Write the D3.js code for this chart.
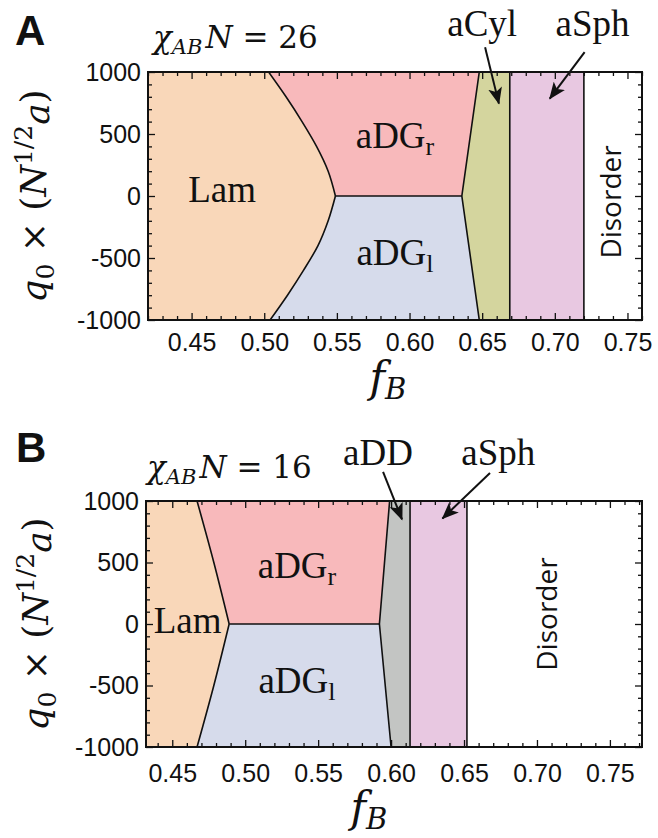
<!DOCTYPE html>
<html>
<head>
<meta charset="utf-8">
<script src="https://cdn.jsdelivr.net/npm/d3@7"></script>
<style>
  body { margin: 0; background: #fff; }
  svg { display: block; }
</style>
</head>
<body>
<div id="chart"></div>
<script>
// axis ticks
const fTicks = [0.45, 0.50, 0.55, 0.60, 0.65, 0.70, 0.75];
const qTicks = [-1000, -500, 0, 500, 1000];

// phase colours
const colors = {
  Lam: "#f9d7b9",
  aDGr: "#f8b9bb",
  aDGl: "#d6dbeb",
  aCyl: "#d4d59e",
  aDD: "#c3c5c3",
  aSph: "#e8c8e1",
  Disorder: "#ffffff"
};

// panel A (chiN = 26) : Lam | aDG boundary, read at several q
const lamUpperQA = [0, 200, 400, 600, 800, 1000];
const lamUpperFA = [0.549, 0.544, 0.536, 0.526, 0.515, 0.503];
const lamLowerQA = [-1000, -800, -600, -400, -200, 0];
const lamLowerFA = [0.504, 0.516, 0.527, 0.537, 0.544, 0.549];
// aDG | aCyl boundary
const dgEdgeQA = [-1000, 0, 1000];
const dgEdgeFA = [0.648, 0.636, 0.648];
const midEdgeA = 0.669; // aCyl | aSph
const sphEdgeA = 0.720; // aSph | Disorder

// panel B (chiN = 16)
const lamUpperQB = [0, 500, 1000];
const lamUpperFB = [0.489, 0.4785, 0.467];
const lamLowerQB = [-1000, -500, 0];
const lamLowerFB = [0.467, 0.4785, 0.489];
const dgEdgeQB = [-1000, 0, 1000];
const dgEdgeFB = [0.600, 0.592, 0.599];
const midEdgeB = 0.613; // aDD | aSph
const sphEdgeB = 0.652; // aSph | Disorder

const zip = (qs, fs) => qs.map((q, i) => ({ q: q, f: fs[i] }));

var panels = [
  {
    letter: "A", chiN: 26, mid: "aCyl",
    fDomain: [0.42, 0.76],
    left: 148, right: 642, top: 72, bottom: 320,
    lamUpper: zip(lamUpperQA, lamUpperFA),
    lamLower: zip(lamLowerQA, lamLowerFA),
    dgEdge: zip(dgEdgeQA, dgEdgeFA),
    midEdge: midEdgeA, sphEdge: sphEdgeA,
    xPad: 13,
    letterPos: [15, 45], titlePos: [153, 48],
    yLabel: [46, 196], xLabel: [388, 392],
    labels: [
      { t: "Lam", f: 0.471, q: -48 },
      { t: "aDG", sub: "r", f: 0.590, q: 385 },
      { t: "aDG", sub: "l", f: 0.590, q: -556 },
      { t: "aCyl", f: 0.650, q: 1290 },
      { t: "aSph", f: 0.726, q: 1290 }
    ],
    arrows: [
      { f0: 0.652, q0: 1200, f1: 0.6615, q1: 745 },
      { f0: 0.7205, q0: 1160, f1: 0.6965, q1: 785 }
    ],
    disorder: { f: 0.7455, q: -48 }
  },
  {
    letter: "B", chiN: 16, mid: "aDD",
    fDomain: [0.432, 0.772],
    left: 146, right: 642, top: 501, bottom: 747,
    lamUpper: zip(lamUpperQB, lamUpperFB),
    lamLower: zip(lamLowerQB, lamLowerFB),
    dgEdge: zip(dgEdgeQB, dgEdgeFB),
    midEdge: midEdgeB, sphEdge: sphEdgeB,
    xPad: 17,
    letterPos: [16, 462], titlePos: [147, 478],
    yLabel: [48, 624], xLabel: [369, 822],
    labels: [
      { t: "Lam", f: 0.4605, q: -73 },
      { t: "aDG", sub: "r", f: 0.5355, q: 374 },
      { t: "aDG", sub: "l", f: 0.5355, q: -561 },
      { t: "aDD", f: 0.591, q: 1293 },
      { t: "aSph", f: 0.6735, q: 1293 }
    ],
    arrows: [
      { f0: 0.5945, q0: 1236, f1: 0.6075, q1: 850 },
      { f0: 0.6678, q0: 1228, f1: 0.6352, q1: 858 }
    ],
    disorder: { f: 0.7137, q: 81 }
  }
];

var svg = d3.select("#chart")
  .append("svg")
  .attr("width", 658)
  .attr("height", 838);

// arrow head
svg.append("defs")
  .append("marker")
  .attr("id", "head")
  .attr("markerUnits", "userSpaceOnUse")
  .attr("markerWidth", 18)
  .attr("markerHeight", 14)
  .attr("refX", 16)
  .attr("refY", 7)
  .attr("orient", "auto")
  .append("path")
  .attr("d", "M0,0 L17,7 L0,14 L4,7 Z")
  .attr("fill", "#111");

var serif = "'DejaVu Serif', serif";
var textSerif = "'Liberation Serif', 'Times New Roman', serif";
var sans = "'Liberation Sans', Arial, sans-serif";

panels.forEach(function (p, pi) {
  var x = d3.scaleLinear().domain(p.fDomain).range([p.left, p.right]);
  var y = d3.scaleLinear().domain([-1000, 1000]).range([p.bottom, p.top]);
  var fMin = p.fDomain[0];

  var clipId = "clip" + pi;
  svg.append("clipPath").attr("id", clipId)
    .append("rect")
    .attr("x", p.left).attr("y", p.top)
    .attr("width", p.right - p.left).attr("height", p.bottom - p.top);

  var g = svg.append("g").attr("clip-path", "url(#" + clipId + ")");

  // area from the left edge to a boundary
  var areaCurve = d3.area()
    .y((d) => y(d.q))
    .x0(x(fMin))
    .x1((d) => x(d.f))
    .curve(d3.curveMonotoneY);
  var areaLin = d3.area()
    .y((d) => y(d.q))
    .x0(x(fMin))
    .x1((d) => x(d.f));

  var full = (f) => [{ q: -1000, f: f }, { q: 1000, f: f }];

  // paint from right to left
  g.append("rect")
    .attr("x", p.left).attr("y", p.top)
    .attr("width", p.right - p.left).attr("height", p.bottom - p.top)
    .attr("fill", colors.Disorder);
  g.append("path").attr("d", areaLin(full(p.sphEdge))).attr("fill", colors.aSph);
  g.append("path").attr("d", areaLin(full(p.midEdge))).attr("fill", colors[p.mid]);
  g.append("path").attr("d", areaLin(p.dgEdge.filter((d) => d.q >= 0))).attr("fill", colors.aDGr);
  g.append("path").attr("d", areaLin(p.dgEdge.filter((d) => d.q <= 0))).attr("fill", colors.aDGl);
  g.append("path").attr("d", areaCurve(p.lamUpper)).attr("fill", colors.Lam);
  g.append("path").attr("d", areaCurve(p.lamLower)).attr("fill", colors.Lam);

  // phase boundaries
  var lineCurve = d3.line().x((d) => x(d.f)).y((d) => y(d.q)).curve(d3.curveMonotoneY);
  var lineLin = d3.line().x((d) => x(d.f)).y((d) => y(d.q));
  var tip = p.lamUpper.find((d) => d.q === 0);
  var dgMid = p.dgEdge.find((d) => d.q === 0);
  var bl = g.append("g").attr("fill", "none").attr("stroke", "#111").attr("stroke-width", 1.6);
  bl.append("path").attr("d", lineCurve(p.lamUpper));
  bl.append("path").attr("d", lineCurve(p.lamLower));
  bl.append("path").attr("d", lineLin(p.dgEdge));
  bl.append("path").attr("d", lineLin([tip, dgMid]));
  bl.append("path").attr("d", lineLin(full(p.midEdge)));
  bl.append("path").attr("d", lineLin(full(p.sphEdge)));

  // minor ticks
  var fMinor = d3.range(Math.ceil(p.fDomain[0] * 100), Math.floor(p.fDomain[1] * 100) + 1)
    .map((d) => d / 100)
    .filter((d) => Math.round(d * 100) % 5 !== 0);
  var qMinor = d3.range(-900, 1000, 100).filter((d) => d % 500 !== 0);

  function styleAxis(sel) {
    sel.select(".domain").remove();
    sel.selectAll("line").attr("stroke", "#111").attr("stroke-width", 1.3);
    sel.selectAll("text")
      .style("font-family", sans)
      .style("font-size", "25px")
      .attr("fill", "#111");
  }

  svg.append("g")
    .attr("transform", "translate(0," + p.bottom + ")")
    .call(d3.axisBottom(x).tickValues(fTicks).tickSize(-7).tickPadding(p.xPad)
      .tickFormat(d3.format(".2f")))
    .call(styleAxis);
  svg.append("g")
    .attr("transform", "translate(0," + p.bottom + ")")
    .call(d3.axisBottom(x).tickValues(fMinor).tickSize(-4).tickFormat(""))
    .call(styleAxis);
  svg.append("g")
    .attr("transform", "translate(0," + p.top + ")")
    .call(d3.axisTop(x).tickValues(fTicks).tickSize(-7).tickFormat(""))
    .call(styleAxis);
  svg.append("g")
    .attr("transform", "translate(0," + p.top + ")")
    .call(d3.axisTop(x).tickValues(fMinor).tickSize(-4).tickFormat(""))
    .call(styleAxis);

  svg.append("g")
    .attr("transform", "translate(" + p.left + ",0)")
    .call(d3.axisLeft(y).tickValues(qTicks).tickSize(-7).tickPadding(7)
      .tickFormat((d) => String(d)))
    .call(styleAxis);
  svg.append("g")
    .attr("transform", "translate(" + p.left + ",0)")
    .call(d3.axisLeft(y).tickValues(qMinor).tickSize(-4).tickFormat(""))
    .call(styleAxis);
  svg.append("g")
    .attr("transform", "translate(" + p.right + ",0)")
    .call(d3.axisRight(y).tickValues(qTicks).tickSize(-7).tickFormat(""))
    .call(styleAxis);
  svg.append("g")
    .attr("transform", "translate(" + p.right + ",0)")
    .call(d3.axisRight(y).tickValues(qMinor).tickSize(-4).tickFormat(""))
    .call(styleAxis);

  // frame
  svg.append("rect")
    .attr("x", p.left).attr("y", p.top)
    .attr("width", p.right - p.left).attr("height", p.bottom - p.top)
    .attr("fill", "none")
    .attr("stroke", "#111")
    .attr("stroke-width", 2);

  // phase labels
  p.labels.forEach(function (l) {
    var t = svg.append("text")
      .attr("x", x(l.f))
      .attr("y", y(l.q))
      .attr("text-anchor", "middle")
      .style("font-family", textSerif)
      .style("font-size", "37px")
      .attr("fill", "#111")
      .text(l.t);
    if (l.sub) {
      t.append("tspan").attr("dy", 7).style("font-size", "26px").text(l.sub);
    }
  });

  // arrows
  p.arrows.forEach(function (a) {
    svg.append("line")
      .attr("x1", x(a.f0)).attr("y1", y(a.q0))
      .attr("x2", x(a.f1)).attr("y2", y(a.q1))
      .attr("stroke", "#111")
      .attr("stroke-width", 2)
      .attr("marker-end", "url(#head)");
  });

  // Disorder
  svg.append("text")
    .attr("transform", "translate(" + x(p.disorder.f) + "," + y(p.disorder.q) + ") rotate(-90)")
    .attr("text-anchor", "middle")
    .style("font-family", "'Open Sans', sans-serif")
    .style("font-size", "28px")
    .attr("fill", "#111")
    .text("Disorder");

  // panel letter
  svg.append("text")
    .attr("x", p.letterPos[0]).attr("y", p.letterPos[1])
    .style("font-family", sans)
    .style("font-weight", "bold")
    .style("font-size", "42px")
    .attr("fill", "#111")
    .text(p.letter);

  // title chi_AB N = value
  var title = svg.append("text")
    .attr("x", p.titlePos[0]).attr("y", p.titlePos[1])
    .style("font-family", serif)
    .style("font-size", "31px")
    .attr("fill", "#111");
  title.append("tspan").style("font-style", "italic").text("\u03c7");
  title.append("tspan").attr("dy", 6).style("font-style", "italic").style("font-size", "21px").text("AB");
  title.append("tspan").attr("dy", -6).attr("dx", 3).style("font-style", "italic").text("N");
  title.append("tspan").text(" = " + p.chiN);

  // y label
  var yl = svg.append("text")
    .attr("transform", "translate(" + p.yLabel[0] + "," + p.yLabel[1] + ") rotate(-90)")
    .attr("text-anchor", "middle")
    .style("font-family", serif)
    .style("font-size", "36px")
    .attr("fill", "#111");
  yl.append("tspan").style("font-style", "italic").text("q");
  yl.append("tspan").attr("dy", 8).style("font-size", "25px").text("0");
  yl.append("tspan").attr("dy", -8).text(" \u00d7 (");
  yl.append("tspan").style("font-style", "italic").text("N");
  yl.append("tspan").attr("dy", -14).style("font-size", "25px").text("1/2");
  yl.append("tspan").attr("dy", 17).style("font-style", "italic").text("a");
  yl.append("tspan").attr("dy", -3).text(")");

  // x label
  var xl = svg.append("text")
    .attr("x", p.xLabel[0]).attr("y", p.xLabel[1])
    .attr("text-anchor", "middle")
    .style("font-family", serif)
    .style("font-style", "italic")
    .style("font-size", "42px")
    .attr("fill", "#111");
  xl.append("tspan").text("f");
  xl.append("tspan").attr("dy", 7).style("font-size", "29px").text("B");
});
</script>
</body>
</html>
